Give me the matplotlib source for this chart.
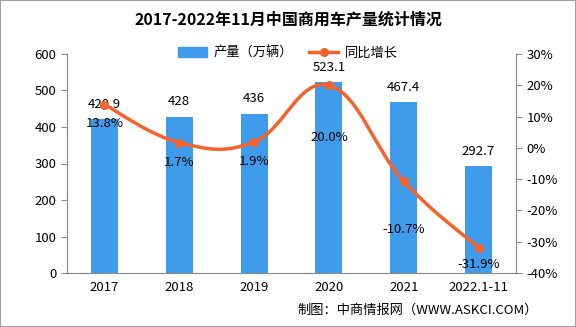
import numpy as np
import matplotlib.pyplot as plt
from matplotlib.path import Path
from matplotlib.patches import PathPatch, Patch
from matplotlib.lines import Line2D

plt.rcParams['font.family'] = ['Noto Sans CJK SC', 'DejaVu Sans']

years = ['2017', '2018', '2019', '2020', '2021', '2022.1-11']
output = [420.9, 428, 436, 523.1, 467.4, 292.7]
growth = [13.8, 1.7, 1.9, 20.0, -10.7, -31.9]
# distance (px) of each percentage label below its point
pct_offset = [19, 20, 20, 52, 48, 17]

bar_color = '#3F9CEC'
line_color = '#F5622A'
spine_color = '#8C8C8C'

fig = plt.figure(figsize=(5.76, 3.27), dpi=100)
ax = fig.add_axes([67 / 576, 1 - 273 / 327, 449 / 576, 219 / 327])
ax2 = ax.twinx()

x = np.arange(len(years))
ax.bar(x, output, width=0.36, color=bar_color, zorder=2)
ax.set_xlim(-0.5, len(years) - 0.5)
ax.set_ylim(0, 600)
ax.set_yticks(range(0, 601, 100))
ax.set_xticks(x)
ax.set_xticklabels(years)

ax2.set_ylim(-40, 30)
ax2.set_yticks(range(-40, 31, 10))
ax2.set_yticklabels([f'{v}%' for v in range(-40, 31, 10)])

# smooth curve through growth points (cubic Bezier segments)
pts = np.column_stack([x, growth]).astype(float)
verts = [pts[0]]
codes = [Path.MOVETO]
t = 0.2
for i in range(len(pts) - 1):
    p0 = pts[i - 1] if i > 0 else pts[i]
    p1 = pts[i]
    p2 = pts[i + 1]
    p3 = pts[i + 2] if i + 2 < len(pts) else pts[i + 1]
    c1 = p1 + (p2 - p0) * t
    c2 = p2 - (p3 - p1) * t
    verts += [c1, c2, p2]
    codes += [Path.CURVE4] * 3
ax2.add_patch(PathPatch(Path(verts, codes), fill=False, edgecolor=line_color, lw=2.5, zorder=3))
ax2.plot(x, growth, 'o', color=line_color, ms=5.5, zorder=4)

px = 72 / 100  # points per pixel
for xi, v in zip(x, output):
    ax.annotate(f'{v:g}', (xi, v), xytext=(0, 15 * px), textcoords='offset points',
                ha='center', va='center', fontsize=9.5)
for xi, g, off in zip(x, growth, pct_offset):
    ax2.annotate(f'{g:.1f}%', (xi, g), xytext=(0, -off * px), textcoords='offset points',
                 ha='center', va='center', fontsize=9.5, zorder=5)

for a in (ax, ax2):
    a.spines['top'].set_visible(False)
    for s in ('left', 'right', 'bottom'):
        a.spines[s].set_color(spine_color)
    a.tick_params(colors=spine_color, labelcolor='black', labelsize=9.5, length=4)
ax.tick_params(axis='x', length=0, pad=6)

ax.set_zorder(ax2.get_zorder() - 1)
ax.patch.set_visible(False)

fig.text(0.5, 1 - 20 / 327, '2017-2022年11月中国商用车产量统计情况', ha='center', va='center',
         fontsize=11.5, fontweight='bold')

handles = [Patch(color=bar_color), Line2D([], [], color=line_color, lw=2.5, marker='o', ms=5.5)]
fig.legend(handles, ['产量（万辆）', '同比增长'], loc='center', bbox_to_anchor=(0.5, 1 - 53 / 327),
           ncol=2, frameon=False, fontsize=9.5, handlelength=2.2, columnspacing=1.2, handletextpad=0.5)

fig.text(418 / 576, 1 - 310 / 327, '制图：中商情报网（WWW.ASKCI.COM）', ha='center', va='center', fontsize=9.5)

fig.patches.append(plt.Rectangle((0, 0), 1, 1, transform=fig.transFigure, fill=False,
                                 edgecolor='#A0A0A0', lw=1.5))

fig.savefig('out.png', dpi=100)
